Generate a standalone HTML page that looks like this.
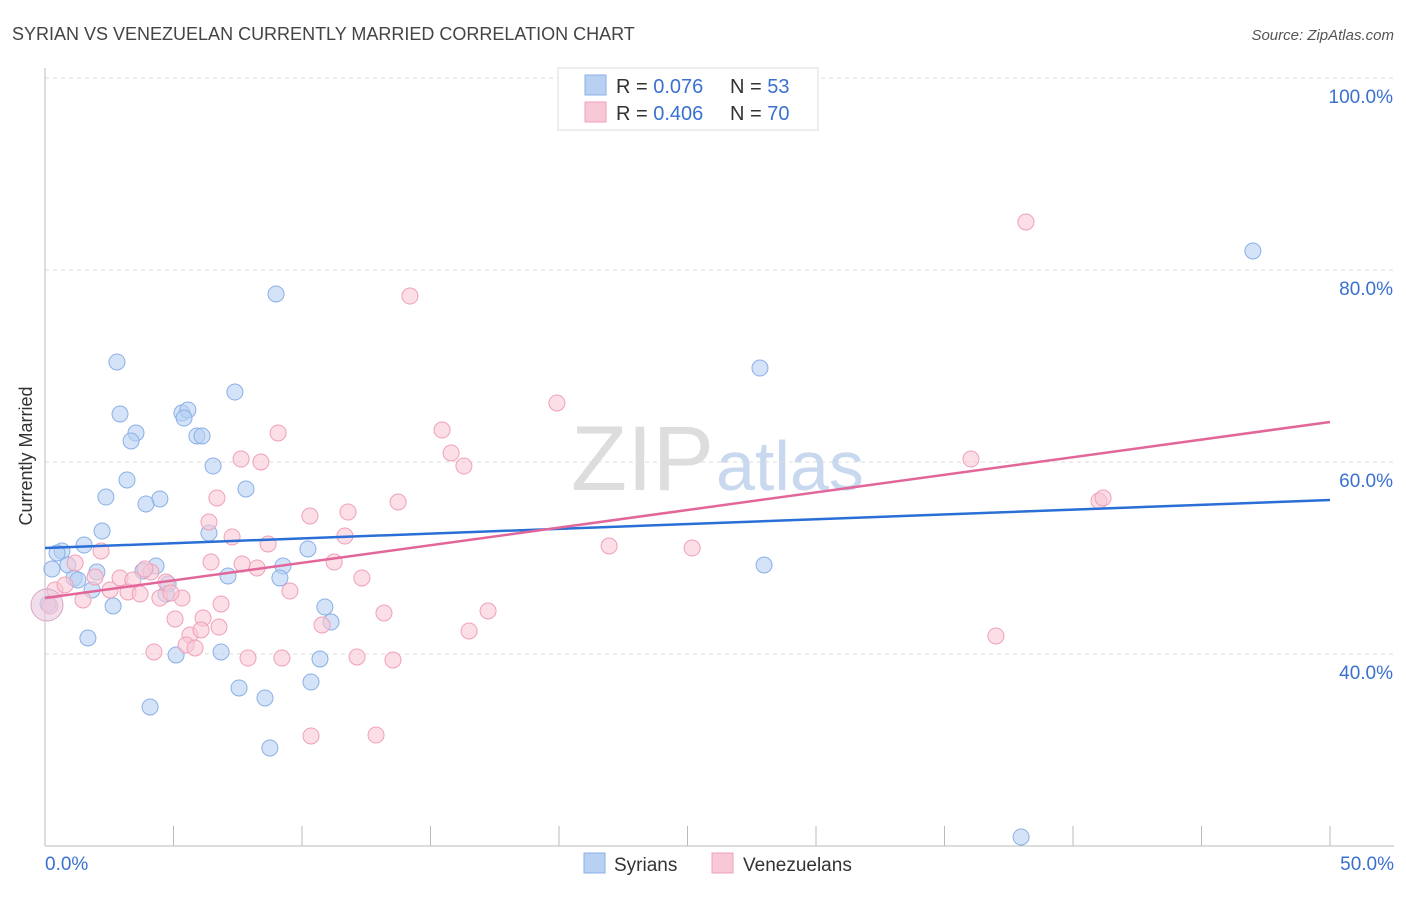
<!DOCTYPE html>
<html><head><meta charset="utf-8"><style>
body{margin:0;background:#fff;font-family:"Liberation Sans",sans-serif;}
svg text{font-family:"Liberation Sans",sans-serif;}
</style></head><body>
<svg id="c" width="1406" height="892">
<text x="12" y="40" font-size="18" fill="#444">SYRIAN VS VENEZUELAN CURRENTLY MARRIED CORRELATION CHART</text>
<text x="1394" y="40" font-size="15" fill="#555" font-style="italic" text-anchor="end">Source: ZipAtlas.com</text>
<text x="32" y="456" font-size="18" fill="#333" transform="rotate(-90 32 456)" text-anchor="middle">Currently Married</text>
<text x="714" y="490" font-size="92" fill="#ddd" font-family="Liberation Serif" text-anchor="end">ZIP</text>
<text x="716" y="490" font-size="70" fill="#c8d8ee">atlas</text>
<g id="grid"></g><g id="pts"></g><g id="lines"></g>
<g>
<rect x="558" y="68" width="260" height="62" fill="#fff" stroke="#ddd"/>
<rect x="585" y="75" width="21" height="20" fill="#b8d1f3" stroke="#8ab0e6"/>
<rect x="585" y="102" width="21" height="20" fill="#f9c8d6" stroke="#f0a0b8"/>
<text x="616" y="93" font-size="20" fill="#333">R = <tspan fill="#3a70d0">0.076</tspan></text>
<text x="730" y="93" font-size="20" fill="#333">N = <tspan fill="#3a70d0">53</tspan></text>
<text x="616" y="120" font-size="20" fill="#333">R = <tspan fill="#3a70d0">0.406</tspan></text>
<text x="730" y="120" font-size="20" fill="#333">N = <tspan fill="#3a70d0">70</tspan></text>
</g>
<g>
<rect x="584" y="853" width="21" height="20" fill="#b8d1f3" stroke="#8ab0e6"/>
<text x="614" y="871" font-size="19" fill="#333">Syrians</text>
<rect x="712" y="853" width="21" height="20" fill="#f9c8d6" stroke="#f0a0b8"/>
<text x="743" y="871" font-size="19" fill="#333">Venezuelans</text>
</g>
</svg>
<script>
const yTicks=[40,60,80,100];
const xTickLabels=["0.0%","50.0%"];
const bluePx=[[276,294],[117,362],[235,392],[760,368],[1253,251],[120,414],[182,413],[188,410],[184,418],[136,433],[131,441],[197,436],[202,436],[213,466],[127,480],[106,497],[160,499],[146,504],[246,489],[102,531],[209,533],[84,545],[62,551],[57,553],[52,569],[68,565],[97,572],[74,578],[78,580],[92,590],[113,606],[143,571],[156,566],[168,584],[166,594],[228,576],[283,566],[280,578],[308,549],[325,607],[331,622],[88,638],[176,655],[221,652],[320,659],[239,688],[265,698],[311,682],[150,707],[270,748],[764,565],[1021,837],[48,604]];
const pinkPx=[[1026,222],[410,296],[557,403],[278,433],[442,430],[451,453],[464,466],[241,459],[261,462],[971,459],[1099,501],[1103,498],[217,498],[398,502],[348,512],[310,516],[209,522],[232,537],[268,544],[345,536],[609,546],[692,548],[101,551],[75,563],[211,562],[334,562],[257,568],[242,564],[120,578],[133,580],[95,577],[151,572],[145,569],[166,582],[110,590],[128,592],[140,594],[160,598],[182,598],[171,593],[55,590],[65,585],[83,600],[50,606],[221,604],[290,591],[362,578],[384,613],[488,611],[203,618],[175,619],[322,625],[469,631],[219,627],[190,635],[201,630],[186,645],[195,648],[154,652],[248,658],[282,658],[357,657],[393,660],[996,636],[311,736],[376,735]];
const blueX=bluePx.map(p=>+((p[0]-45)/1285*50).toFixed(2)), blueY=bluePx.map(p=>+(80+(270-p[1])/9.6).toFixed(2));
const pinkX=pinkPx.map(p=>+((p[0]-45)/1285*50).toFixed(2)), pinkY=pinkPx.map(p=>+(80+(270-p[1])/9.6).toFixed(2));
const blueTrend=[51.04,56.04], pinkTrend=[45.83,64.17];
const X=v=>45+v/50*1285, Y=v=>270-(v-80)*9.6;
const NS="http://www.w3.org/2000/svg";
function mk(tag,attrs,parent){const e=document.createElementNS(NS,tag);for(const k in attrs)e.setAttribute(k,attrs[k]);document.getElementById(parent).appendChild(e);return e;}
const g='grid';
for(const t of yTicks){const l=mk('line',{x1:45,x2:1394,y1:Y(t),y2:Y(t),stroke:'#ddd','stroke-dasharray':'4,4'},g);


const tx=mk('text',{x:1393,y:Y(t)+25,'font-size':19,fill:'#3a70d0','text-anchor':'end'},g);tx.textContent=t.toFixed(1)+'%';

}
mk('line',{x1:45,x2:45,y1:68,y2:846,stroke:'#bbb'},g);
mk('line',{x1:45,x2:1394,y1:846,y2:846,stroke:'#bbb'},g);
for(let i=0;i<=10;i++){mk('line',{x1:X(i*5),x2:X(i*5),y1:826,y2:846,stroke:'#bbb'},g);}
const a=mk('text',{x:45,y:870,'font-size':19,fill:'#3a70d0'},g);a.textContent=xTickLabels[0];


const b=mk('text',{x:1394,y:870,'font-size':19,fill:'#3a70d0','text-anchor':'end'},g);b.textContent=xTickLabels[1];


blueX.forEach((v,i)=>{const c=mk('circle',{cx:X(v),cy:Y(blueY[i]),r:8,fill:'#b8d1f3','fill-opacity':0.6,stroke:'#8ab0e6'},'pts');

});
pinkX.forEach((v,i)=>{const c=mk('circle',{cx:X(v),cy:Y(pinkY[i]),r:8,fill:'#f9c8d6','fill-opacity':0.6,stroke:'#f0a0b8'},'pts');

});
const big=mk('circle',{cx:47,cy:605,r:16,fill:'#e8c8dc','fill-opacity':0.6,stroke:'#d8a8c4'},'pts');


const bl=mk('line',{x1:X(0),y1:Y(blueTrend[0]),x2:X(50),y2:Y(blueTrend[1]),stroke:'#2a6fd6','stroke-width':2.5},'lines');


const pl=mk('line',{x1:X(0),y1:Y(pinkTrend[0]),x2:X(50),y2:Y(pinkTrend[1]),stroke:'#e2669a','stroke-width':2.5},'lines');


</script>
</body></html>
